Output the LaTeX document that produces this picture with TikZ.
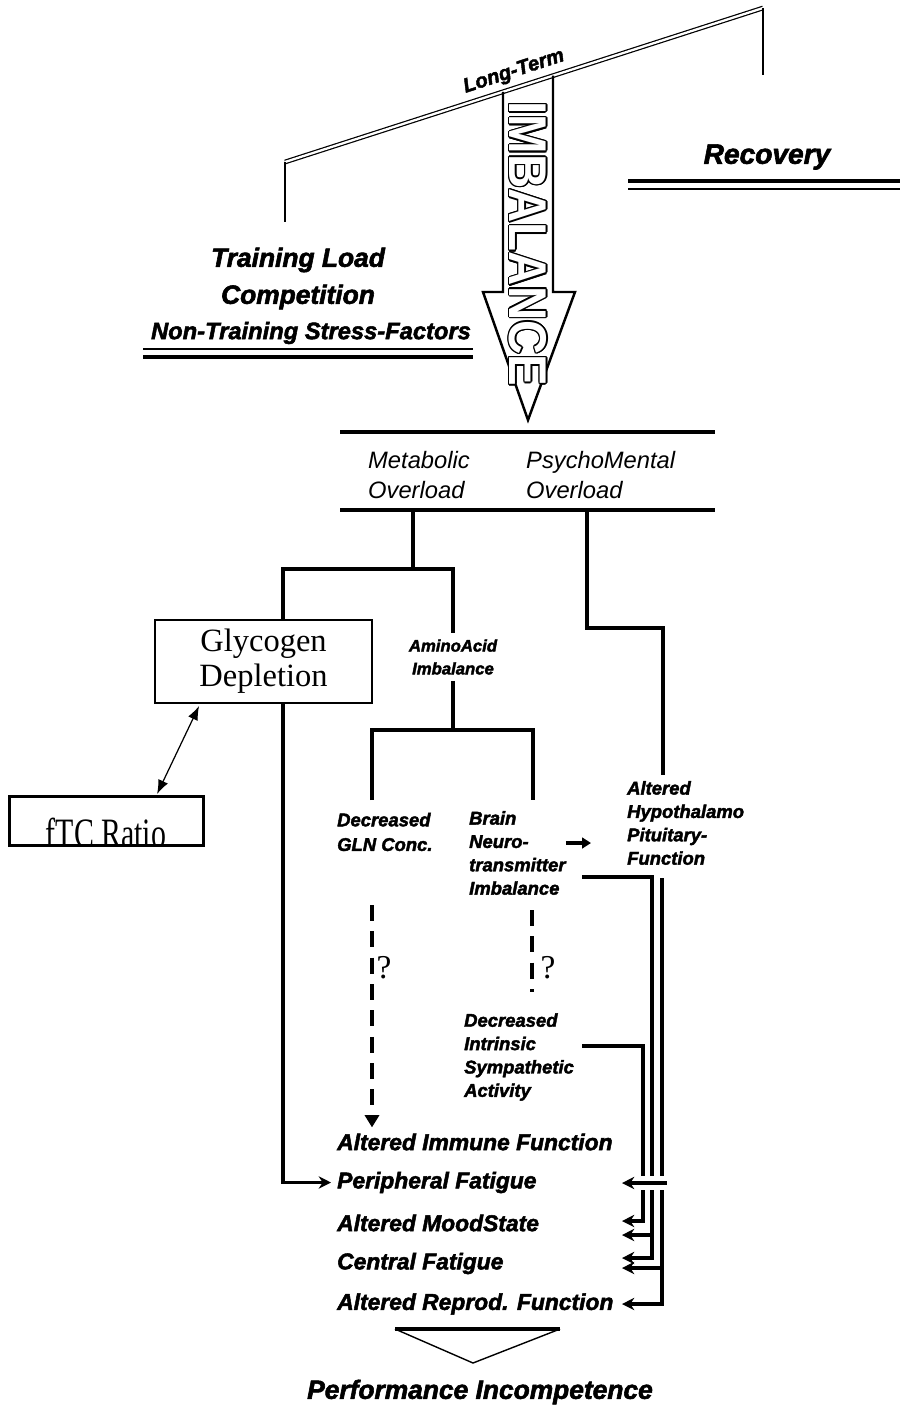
\documentclass[tikz,border=0pt]{standalone}
\usepackage{fontspec}
\setmainfont{Liberation Serif}
\setsansfont{Liberation Sans}[BoldItalicFeatures={FakeBold=2.2}]
\usetikzlibrary{positioning,calc,arrows.meta}

\newcommand{\hv}[2]{\sffamily\bfseries\itshape\fontsize{#1}{#2}\selectfont}
\newcommand{\obl}[2]{\sffamily\itshape\fontsize{#1}{#2}\selectfont}
\newcommand{\tms}[2]{\rmfamily\fontsize{#1}{#2}\selectfont}

\begin{document}
\begin{tikzpicture}[x=0.02cm, y=-0.02cm,
    wire/.style={line width=2.2pt},
    tip/.style={-{Stealth[length=7pt,width=7pt]}},
    framebox/.style={draw, line width=1.1pt, fill=white}]
        \useasboundingbox (0,0) rectangle (900,1410);

        %-----Balance-----
        \coordinate (beamleft) at (285,162);
        \coordinate (beamright) at (763,8);
        \draw[double, double distance=1.3pt, line width=0.7pt] (beamleft) -- (beamright);
        \draw[line width=1.6pt] (beamleft) -- ++(0,60);
        \draw[line width=1.6pt] (beamright) -- ++(0,67);
        \node[font=\hv{11.5}{13}, rotate=18, inner sep=1pt] (longterm) at (514,72) {Long-Term};

        % Imbalance arrow
        \draw[line width=1.4pt, line join=miter] (503,91.8) -- (503,292) -- (483,292) -- (528,420) -- (575,292) -- (553,292) -- (553,75.7);
        \foreach \ang in {0,30,...,330}
            \node[font=\sffamily\bfseries\fontsize{27}{30}\selectfont, rotate=-90, inner sep=0pt] (imbshadow\ang) at ($(528,244)+(\ang:0.8pt)$) {\scalebox{1}[1.12]{IMBALANCE}};
        \node[font=\sffamily\bfseries\fontsize{27}{30}\selectfont, rotate=-90, inner sep=0pt, text=white] (imbalance) at (528,244) {\scalebox{1}[1.12]{IMBALANCE}};

        % Recovery
        \node[font=\hv{16}{19}] (recovery) at (767,157) {Recovery};
        \draw[line width=2.4pt] (628,181) -- (900,181);
        \draw[line width=1.3pt] (628,189) -- (900,189);

        % Stress factors
        \node[font=\hv{15}{18}] (load) at (298,260) {Training Load};
        \node[font=\hv{15}{18}] (comp) at (298,297) {Competition};
        \node[font=\hv{13.5}{16}] (stress) at (311,333) {Non-Training Stress-Factors};
        \draw[line width=1.2pt] (143,349) -- (473,349);
        \draw[line width=2.4pt] (143,357) -- (473,357);

        %-----Overload-----
        \draw[wire] (340,432) -- (715,432);
        \draw[wire] (340,510) -- (715,510);
        \node[font=\obl{13.5}{17}, align=left, anchor=west] (metab) at (362,475) {Metabolic\\Overload};
        \node[font=\obl{13.5}{17}, align=left, anchor=west] (psycho) at (520,475) {PsychoMental\\Overload};
        \coordinate (metfoot) at (413,510);
        \coordinate (metsplit) at (413,569);
        \coordinate (psyfoot) at (587,510);
        \coordinate (psybend) at (663,628);
        \coordinate (glycolane) at (283,900);

        %-----Middle level-----
        \node[font=\hv{9.5}{13}, align=center] (amino) at (453,657) {AminoAcid\\Imbalance};
        \node[font=\hv{10.5}{14}, align=left, anchor=west] (gln) at (331,832) {Decreased\\GLN Conc.};
        \node[font=\hv{10.5}{13.3}, align=left, anchor=west] (brain) at (463,853) {Brain\\Neuro-\\transmitter\\Imbalance};
        \node[font=\hv{10.5}{13.3}, align=left, anchor=west] (hypo) at (621,823) {Altered\\Hypothalamo\\Pituitary-\\Function};
        \node[font=\hv{10.5}{13.3}, align=left, anchor=west] (symp) at (458,1057) {Decreased\\Intrinsic\\Sympathetic\\Activity};
        \node[font=\tms{19}{20}] (qgln) at (384,968) {?};
        \node[font=\tms{19}{20}] (qbrain) at (548,968) {?};

        %-----Outcomes-----
        \node[font=\hv{13}{15}, anchor=west] (immune) at (331,1142) {Altered Immune Function};
        \node[font=\hv{13}{15}, below=0.81cm of immune.west, anchor=west] (periph) {Peripheral Fatigue};
        \node[font=\hv{13}{15}, below=0.81cm of periph.west, anchor=west] (mood) {Altered MoodState};
        \node[font=\hv{13}{15}, below=0.81cm of mood.west, anchor=west] (central) {Central Fatigue};
        \node[font=\hv{13}{15}, below=0.81cm of central.west, anchor=west] (reprod) {Altered Reprod. Function};
        \node[font=\hv{15}{18}] (perf) at (480,1392) {Performance Incompetence};

        %-----Connections-----
        \draw[wire] (metfoot) -- (metsplit);
        \draw[wire, tip] (metsplit) -| (glycolane) |- (periph.west);
        \draw[wire] (metsplit) -| (amino.north);
        \draw[wire] (psyfoot) |- (psybend) -- (psybend |- hypo.north);

        % Glycogen and fTC boxes
        \node[framebox, font=\tms{18.5}{20}, align=center, minimum width=4.34cm, minimum height=1.66cm] (glyco) at (263.5,661.5) {Glycogen\\Depletion};
        \node[framebox, minimum width=3.86cm, minimum height=0.96cm] (ftc) at (106.5,821) {};
        \begin{scope}
            \clip (ftc.south west) rectangle (ftc.north east);
            \node[font=\tms{17}{20}, anchor=base] (ftclabel) at (106,847) {\scalebox{1}[1.4]{fTC Ratio}};
        \end{scope}
        \draw[line width=1.1pt] (ftc.south west) rectangle (ftc.north east);
        \draw[line width=0.7pt, {Latex[length=8pt,width=6pt]}-{Latex[length=8pt,width=6pt]}] ($(glyco.south west)+(45,2)$) -- ($(ftc.north west)+(148,-2)$);

        % Amino acid split
        \coordinate (aminosplit) at (453,730);
        \coordinate (glntop) at (372,800);
        \coordinate (braintop) at (533,800);
        \draw[wire] (amino.south) -- (aminosplit);
        \draw[wire] (glntop) |- (aminosplit -| braintop) -- (braintop);

        % small arrow to hypothalamo
        \draw[line width=2pt, -{Triangle[length=5pt,width=6pt]}] ($(brain.east)+(-6,-10)$) -- ($(hypo.west)+(-30,20)$);

        % dashed links
        \coordinate (glndash) at (372,905);
        \coordinate (braindash) at (532,910);
        \coordinate (sympdash) at (532,992);
        \draw[wire, dash pattern=on 9pt off 6pt, -{Triangle[length=7pt,width=8pt]}] (glndash) -- (glndash |- immune.north);
        \draw[wire, dash pattern=on 9pt off 6pt] (braindash) -- (sympdash);

        % right-hand bundle
        \coordinate (brainout) at (582,877);
        \coordinate (hypoout) at (662,878);
        \coordinate (sympout) at (582,1046);
        \coordinate (periphtip) at (622,1183);
        \coordinate (moodtipa) at (622,1221);
        \coordinate (moodtipb) at (622,1235);
        \coordinate (centraltipa) at (622,1258);
        \coordinate (centraltipb) at (622,1268);
        \coordinate (reprodtip) at (622,1304);
        \draw[wire, tip] (sympout) -| ([xshift=0.42cm]moodtipa) -- (moodtipa);
        \draw[wire, tip] (brainout) -| ([xshift=0.6cm]centraltipa) -- (centraltipa);
        \draw[wire, tip] ([xshift=0.6cm]moodtipb) -- (moodtipb);
        \draw[wire, tip] (hypoout) |- (reprodtip);
        \draw[wire, tip] ([xshift=0.8cm]centraltipb) -- (centraltipb);
        \draw[wire, tip, preaction={draw=white, line width=8pt, arrows=-}] ([xshift=0.9cm]periphtip) -- (periphtip);

        % performance wedge
        \draw[line width=2.4pt] (395,1329) -- (560,1329);
        \draw[line width=0.8pt] (395,1329) -- (473,1363) -- (560,1329);
\end{tikzpicture}
\end{document}
